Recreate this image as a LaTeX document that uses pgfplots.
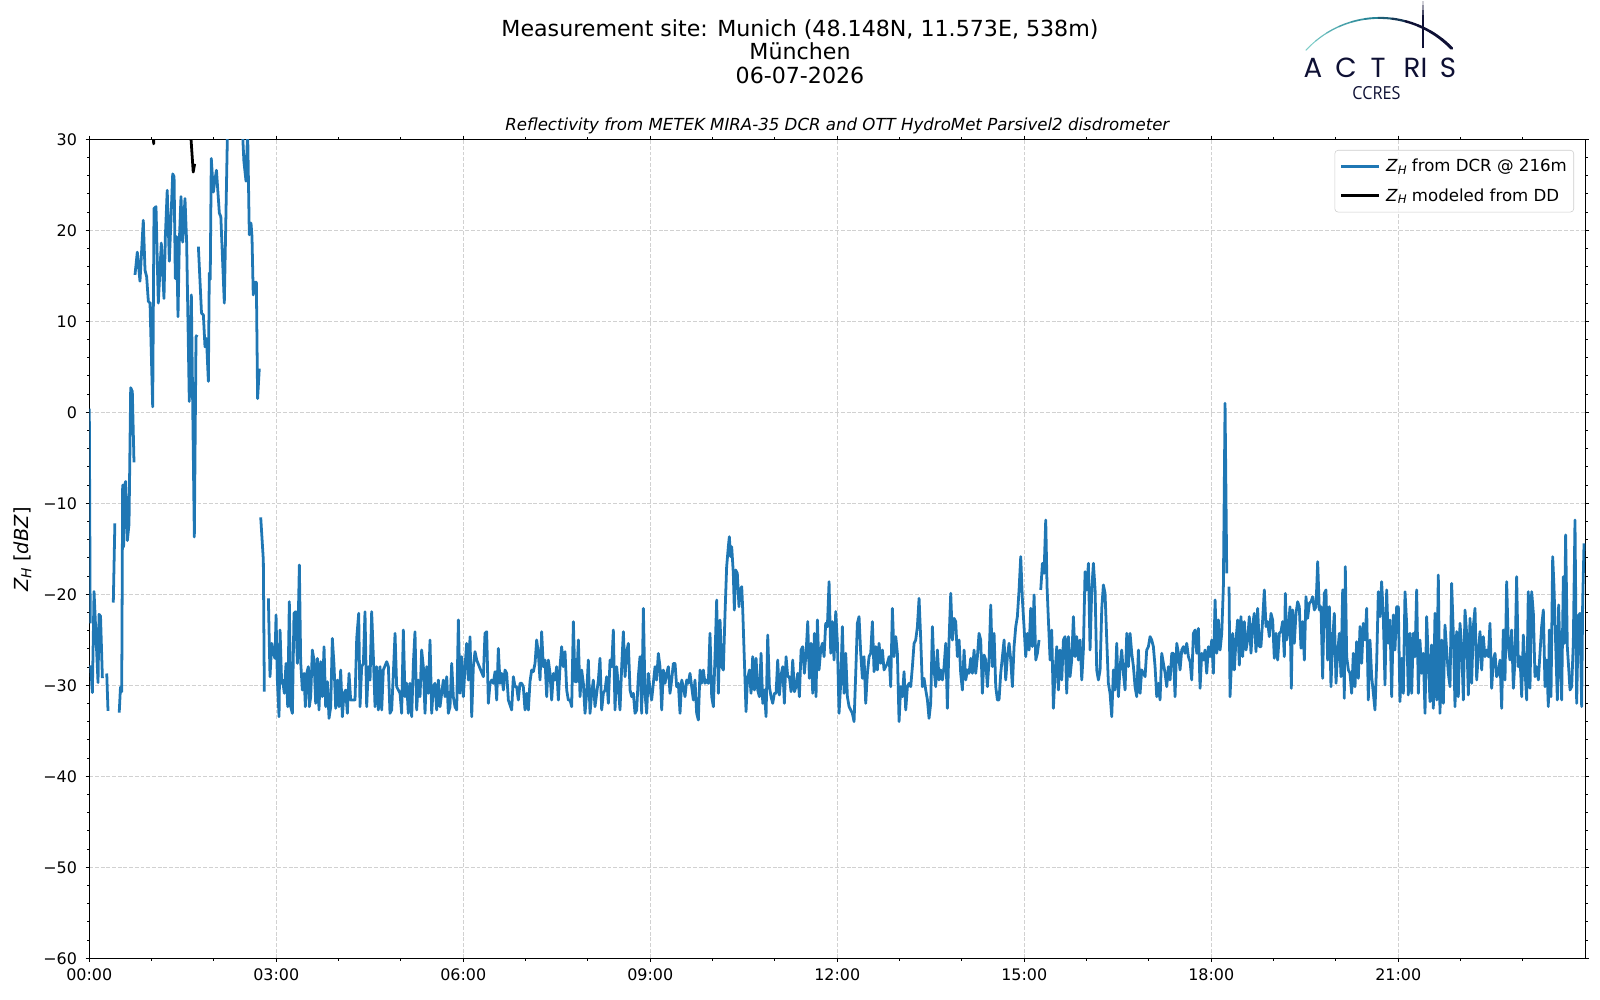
\documentclass[border=0pt]{standalone}
\usepackage{fontspec}
\setmainfont{DejaVu Sans}
\newfontfamily\logofont{Poppins}
\newfontfamily\ccresfont{Open Sans}
\usepackage{pgfplots}
\pgfplotsset{compat=1.18}
\usepackage{pgfplotstable}
\definecolor{mplblue}{RGB}{31,119,180}
\definecolor{navy}{RGB}{14,16,52}
\definecolor{teal1}{RGB}{125,205,200}
\definecolor{teal2}{RGB}{38,132,150}
\newcommand{\ZH}{\textit{Z}\raisebox{-0.3ex}{\fontsize{8.5}{10}\selectfont\itshape H}}

\pgfplotstableread{
t z
0.000 0.4
0.015 -23.2
nan nan
0.022 -27.8
0.049 -30.8
0.076 -19.7
0.140 -29.7
0.156 -22.2
0.180 -22.4
0.210 -29.2
nan nan
0.280 -28.7
0.300 -32.8
nan nan
0.385 -20.9
0.410 -12.2
nan nan
0.480 -33.0
0.500 -30.2
0.520 -30.7
0.535 -8.0
0.550 -14.8
0.565 -8.0
0.584 -7.6
0.610 -14.1
0.637 -12.3
0.664 2.7
0.690 2.3
0.717 -5.5
nan nan
0.733 15.1
0.770 17.6
0.813 14.4
0.866 21.1
0.894 15.6
0.920 14.9
0.947 12.2
0.974 12.0
1.017 0.6
1.038 22.4
1.070 22.6
1.107 12.0
1.155 18.6
1.198 12.5
1.220 19.3
1.250 24.4
1.284 16.6
1.338 26.2
1.360 25.9
1.380 14.7
1.400 19.3
1.423 10.5
1.445 18.9
1.471 23.7
1.498 18.7
1.535 23.5
1.562 18.6
1.604 1.2
1.637 12.9
1.685 -13.7
1.712 8.3
1.730 8.5
nan nan
1.750 18.2
1.800 10.9
1.830 10.7
1.856 7.2
1.880 8.1
1.910 3.4
1.925 15.3
1.940 14.6
1.957 27.9
1.990 24.2
2.015 25.5
2.040 26.6
2.086 21.9
2.110 21.5
2.166 12.0
2.214 29.9
2.240 36.0
2.400 36.0
2.460 30.5
2.480 27.6
2.514 25.4
2.540 31.0
2.567 19.5
2.594 20.8
2.610 19.3
2.630 12.9
2.660 14.3
2.680 14.3
2.700 1.5
2.727 4.8
nan nan
2.750 -11.54
2.792 -16.23
2.808 -30.70
nan nan
2.873 -20.44
2.899 -29.05
2.926 -25.39
2.953 -26.49
2.979 -27.04
2.996 -22.28
3.017 -29.42
3.044 -33.45
3.060 -23.92
3.086 -29.78
3.102 -29.42
3.129 -30.88
3.156 -27.59
3.183 -32.35
3.209 -20.81
3.231 -32.35
3.258 -33.08
3.284 -22.09
3.311 -21.91
3.338 -27.59
3.370 -16.78
3.391 -27.40
3.418 -30.52
3.445 -28.69
3.466 -32.35
3.488 -28.69
3.514 -27.95
3.530 -32.35
3.552 -31.25
3.578 -26.12
3.605 -27.22
3.632 -31.98
3.659 -27.04
3.685 -32.71
3.712 -27.40
3.739 -31.25
3.766 -25.76
3.792 -32.35
3.819 -29.60
3.846 -33.63
3.873 -32.35
3.899 -24.84
3.926 -27.77
3.953 -32.53
3.980 -29.42
4.006 -32.35
4.033 -28.32
4.060 -33.45
4.086 -30.88
4.113 -30.52
4.140 -33.08
4.167 -28.69
4.193 -31.62
4.220 -31.62
4.263 -31.62
4.290 -24.84
4.322 -22.09
4.343 -32.35
4.370 -27.95
4.397 -27.59
4.423 -21.91
4.450 -32.35
4.477 -27.95
4.504 -29.42
4.530 -21.91
4.557 -26.85
4.584 -32.35
4.610 -27.95
4.637 -32.71
4.664 -27.95
4.691 -32.71
4.717 -28.32
4.771 -27.40
4.798 -27.95
4.824 -33.08
4.851 -32.71
4.878 -28.69
4.905 -24.29
4.931 -30.15
4.958 -30.52
4.985 -30.88
5.011 -33.08
5.038 -23.92
5.065 -31.25
5.092 -29.78
5.118 -33.08
5.145 -29.78
5.172 -33.45
5.199 -27.59
5.225 -24.11
5.252 -32.71
5.279 -29.42
5.306 -31.25
5.332 -26.12
5.359 -27.95
5.386 -33.08
5.413 -27.95
5.439 -30.88
5.466 -25.02
5.493 -33.08
5.519 -30.15
5.546 -29.78
5.573 -32.71
5.600 -29.42
5.627 -32.35
5.653 -30.88
5.680 -29.42
5.707 -31.25
5.734 -29.05
5.760 -33.08
5.787 -32.35
5.814 -27.59
5.840 -31.25
5.867 -32.35
5.894 -32.71
5.921 -22.82
5.947 -30.88
5.974 -26.85
6.001 -31.25
6.028 -27.95
6.054 -25.39
6.081 -29.42
6.108 -24.66
6.135 -33.45
6.161 -27.95
6.188 -26.30
6.215 -27.22
6.322 -29.05
6.348 -24.29
6.375 -24.11
6.402 -31.98
6.429 -29.78
6.455 -29.42
6.482 -29.78
6.509 -28.50
6.536 -31.62
6.562 -25.94
6.589 -29.78
6.616 -28.69
6.643 -30.52
6.669 -28.32
6.696 -28.69
6.723 -31.62
6.776 -32.71
6.803 -29.05
6.830 -30.15
6.856 -30.15
6.883 -31.62
6.910 -29.78
6.937 -29.78
6.963 -30.15
6.990 -32.71
7.017 -30.88
7.044 -32.71
7.070 -29.60
7.097 -28.32
7.124 -28.50
7.151 -27.59
7.177 -25.02
7.204 -26.49
7.231 -29.42
7.257 -24.11
7.284 -27.95
7.311 -27.22
7.338 -31.25
7.364 -27.22
7.391 -28.69
7.418 -31.62
7.445 -28.69
7.472 -29.42
7.498 -27.95
7.525 -31.62
7.552 -27.95
7.578 -25.76
7.605 -27.95
7.632 -26.30
7.659 -30.52
7.685 -31.62
7.712 -31.62
7.739 -32.35
7.766 -23.01
7.792 -29.60
7.819 -29.60
7.846 -25.02
7.873 -31.25
7.899 -28.32
7.926 -29.78
7.953 -33.08
7.979 -30.88
8.006 -27.22
8.033 -33.08
8.060 -30.88
8.086 -29.42
8.113 -32.35
8.140 -30.88
8.167 -29.42
8.193 -27.04
8.220 -32.71
8.247 -30.88
8.274 -30.52
8.300 -29.05
8.327 -31.98
8.354 -27.22
8.381 -27.95
8.407 -23.92
8.434 -32.71
8.461 -27.95
8.488 -30.15
8.514 -32.71
8.541 -27.95
8.568 -24.11
8.595 -29.05
8.621 -26.30
8.648 -25.39
8.675 -30.52
8.702 -31.25
8.728 -30.88
8.755 -33.08
8.782 -32.71
8.808 -29.05
8.835 -26.85
8.862 -33.08
8.889 -21.54
8.915 -30.88
8.942 -33.08
8.969 -28.69
8.996 -30.52
9.022 -31.62
9.049 -29.78
9.076 -27.95
9.102 -29.42
9.129 -26.49
9.156 -27.95
9.183 -32.71
9.209 -28.32
9.236 -29.78
9.263 -28.69
9.290 -27.95
9.316 -30.88
9.343 -29.42
9.370 -27.59
9.397 -27.59
9.423 -30.15
9.450 -29.78
9.477 -33.08
9.504 -29.42
9.530 -30.15
9.557 -31.25
9.584 -29.42
9.610 -29.78
9.637 -28.69
9.664 -30.15
9.691 -31.62
9.717 -29.42
9.744 -33.08
9.771 -33.81
9.798 -28.32
9.824 -29.78
9.851 -28.32
9.878 -29.78
9.905 -29.42
9.931 -29.78
9.958 -24.29
9.985 -31.25
10.012 -32.35
10.038 -26.85
10.065 -20.63
10.092 -30.88
10.119 -22.82
10.145 -27.95
10.172 -28.32
10.199 -22.09
10.225 -16.96
10.252 -14.77
10.268 -13.67
10.289 -15.86
10.306 -14.77
10.332 -17.70
10.348 -21.73
10.370 -17.33
10.396 -17.70
10.423 -21.36
10.440 -19.52
10.467 -19.16
10.483 -21.72
10.536 -32.89
10.558 -29.41
10.590 -28.31
10.616 -30.88
10.643 -26.85
10.670 -30.51
10.697 -27.03
10.723 -30.51
10.750 -31.25
10.777 -26.48
10.804 -31.98
10.830 -30.51
10.857 -33.44
10.884 -24.47
10.911 -30.15
10.937 -31.25
10.964 -31.98
10.991 -30.88
11.018 -30.88
11.044 -27.22
11.071 -31.06
11.098 -28.86
11.125 -27.95
11.151 -31.98
11.178 -26.85
11.205 -29.05
11.232 -29.05
11.258 -30.70
11.285 -27.22
11.312 -30.70
11.338 -30.15
11.365 -28.68
11.392 -31.25
11.419 -26.12
11.445 -25.75
11.472 -28.68
11.499 -26.48
11.526 -23.00
11.552 -29.23
11.579 -25.38
11.606 -30.88
11.633 -24.29
11.659 -31.25
11.681 -22.82
11.707 -28.31
11.734 -26.12
11.761 -25.38
11.788 -26.85
11.814 -23.19
11.841 -23.55
11.868 -18.61
11.895 -26.48
11.921 -23.00
11.948 -27.22
11.975 -21.90
12.002 -25.38
12.028 -33.08
12.055 -29.78
12.082 -23.55
12.109 -30.88
12.135 -26.48
12.162 -31.25
12.189 -32.34
12.216 -32.71
12.242 -33.08
12.269 -33.99
12.296 -28.68
12.322 -23.19
12.349 -22.45
12.376 -26.48
12.403 -29.23
12.429 -26.85
12.456 -31.98
12.483 -28.68
12.510 -26.85
12.536 -26.48
12.563 -23.00
12.590 -28.50
12.617 -25.75
12.643 -28.31
12.670 -25.38
12.697 -27.58
12.724 -26.12
12.750 -28.31
12.777 -27.95
12.804 -27.58
12.831 -26.85
12.857 -30.15
12.884 -21.54
12.911 -26.85
12.938 -24.65
12.964 -26.48
12.991 -33.99
13.018 -30.15
13.044 -31.25
13.071 -28.50
13.098 -32.71
13.125 -30.15
13.151 -29.78
13.178 -30.15
13.205 -27.95
13.232 -25.38
13.258 -25.02
13.285 -23.55
13.312 -20.44
13.339 -25.02
13.365 -30.15
13.392 -29.23
13.419 -30.51
13.446 -31.61
13.472 -33.63
13.499 -31.98
13.526 -23.55
13.553 -28.31
13.579 -30.15
13.606 -26.12
13.633 -29.41
13.659 -28.31
13.686 -29.41
13.713 -27.95
13.740 -25.38
13.766 -32.53
13.793 -25.02
13.820 -19.89
13.847 -25.02
13.873 -22.64
13.900 -23.00
13.927 -26.85
13.954 -25.02
13.980 -28.68
14.007 -30.51
14.034 -26.12
14.061 -29.41
14.087 -28.31
14.114 -28.68
14.141 -27.03
14.168 -28.68
14.194 -26.12
14.221 -28.68
14.248 -26.85
14.274 -24.29
14.301 -25.02
14.328 -30.88
14.355 -26.67
14.381 -27.22
14.408 -30.15
14.435 -27.22
14.462 -21.17
14.488 -27.95
14.515 -24.29
14.542 -30.15
14.569 -31.61
14.595 -31.61
14.622 -28.68
14.649 -26.85
14.676 -25.02
14.702 -29.41
14.729 -26.85
14.756 -25.38
14.783 -27.22
14.809 -30.15
14.836 -25.75
14.863 -23.55
14.889 -22.45
14.916 -19.52
14.943 -15.86
14.970 -20.62
14.996 -23.55
15.023 -26.85
15.050 -24.29
15.077 -26.12
15.103 -21.54
15.130 -25.75
15.157 -20.07
15.184 -27.22
15.210 -26.48
15.237 -25.02
nan nan
15.264 -19.52
15.291 -16.59
15.317 -17.69
15.344 -11.83
15.365 -19.16
15.387 -22.82
15.414 -27.22
15.440 -23.92
15.467 -32.53
15.494 -28.68
15.521 -25.75
15.547 -30.51
15.574 -26.12
15.601 -29.41
15.628 -25.02
15.654 -24.65
15.681 -30.88
15.708 -24.65
15.734 -29.05
15.761 -27.22
15.788 -22.45
15.815 -26.85
15.841 -24.65
15.868 -27.22
15.895 -25.02
15.922 -29.41
15.948 -26.12
15.975 -17.51
16.002 -19.52
16.029 -16.59
16.055 -26.12
16.082 -19.52
16.109 -16.59
16.136 -19.52
16.162 -28.31
16.189 -29.41
16.216 -28.31
16.243 -21.54
16.269 -18.97
16.296 -19.89
16.323 -25.02
16.349 -29.78
16.376 -30.88
16.403 -33.44
16.430 -28.31
16.456 -30.51
16.483 -25.38
16.510 -31.25
16.537 -27.95
16.563 -26.12
16.590 -28.68
16.617 -30.51
16.644 -24.29
16.670 -27.95
16.697 -24.29
16.724 -26.48
16.751 -27.95
16.777 -30.15
16.804 -31.25
16.831 -26.12
16.858 -30.88
16.884 -28.31
16.911 -28.68
16.938 -29.05
16.964 -26.12
16.991 -25.75
17.018 -24.65
17.045 -25.02
17.071 -25.75
17.098 -27.95
17.125 -31.25
17.152 -29.78
17.178 -31.61
17.205 -26.48
17.232 -27.58
17.259 -28.68
17.285 -30.15
17.312 -27.95
17.339 -29.41
17.366 -26.48
17.392 -26.48
17.419 -31.25
17.446 -25.38
17.473 -26.48
17.499 -28.31
17.526 -26.12
17.553 -25.75
17.579 -26.48
17.606 -25.38
17.633 -26.85
17.660 -27.40
17.686 -29.41
17.713 -24.29
17.740 -23.92
17.767 -26.48
17.793 -23.74
17.820 -30.33
17.847 -26.48
17.874 -27.22
17.900 -26.12
17.927 -28.68
17.954 -25.75
17.981 -26.85
18.007 -25.02
18.034 -28.68
18.061 -20.62
18.088 -26.48
18.114 -22.82
18.141 -26.12
18.168 -24.29
18.194 -19.16
18.221 1.0
18.248 -17.69
nan nan
18.285 -19.16
18.301 -31.25
18.343 -24.29
18.370 -28.31
18.396 -25.02
18.423 -22.82
18.450 -27.77
18.476 -22.45
18.503 -26.85
18.530 -23.00
18.557 -26.12
18.583 -25.02
18.610 -22.45
18.637 -26.48
18.664 -23.37
18.690 -22.09
18.717 -26.30
18.744 -21.54
18.771 -25.75
18.797 -25.75
18.824 -22.82
18.851 -19.52
18.878 -23.55
18.904 -23.00
18.931 -24.65
18.958 -22.09
18.985 -22.82
19.011 -27.03
19.038 -24.29
19.065 -27.22
19.092 -24.29
19.118 -24.10
19.145 -23.00
19.172 -26.85
19.188 -19.89
19.209 -25.02
19.236 -23.92
19.263 -21.36
19.284 -30.33
19.305 -21.72
19.332 -25.38
19.359 -22.09
19.386 -20.81
19.412 -21.36
19.439 -25.93
19.466 -23.00
19.493 -27.22
19.519 -20.26
19.546 -22.64
19.573 -20.99
19.600 -20.81
19.626 -20.26
19.653 -21.72
19.680 -21.36
19.707 -16.41
19.733 -21.72
19.760 -21.36
19.787 -29.23
19.813 -19.89
19.840 -19.52
19.867 -27.22
19.894 -21.36
19.920 -30.15
19.947 -25.02
19.974 -22.09
20.001 -29.78
20.027 -26.48
20.054 -24.29
20.081 -29.05
20.108 -19.52
20.134 -31.43
20.150 -16.96
20.172 -26.85
20.199 -28.31
20.225 -28.68
20.252 -30.88
20.279 -26.48
20.306 -30.15
20.332 -25.20
20.359 -29.23
20.386 -23.55
20.413 -27.58
20.439 -23.19
20.466 -25.02
20.493 -21.54
20.519 -31.61
20.546 -25.02
20.573 -29.05
20.600 -30.88
20.626 -32.71
20.653 -27.58
20.680 -19.71
20.707 -22.45
20.733 -18.61
20.760 -22.45
20.787 -29.96
20.814 -19.52
20.840 -25.38
20.867 -22.82
20.894 -31.25
20.921 -22.27
20.947 -26.12
20.974 -21.36
21.001 -21.36
21.027 -31.79
21.054 -27.03
21.081 -30.88
21.108 -19.71
21.134 -23.19
21.161 -31.06
21.188 -24.29
21.215 -30.88
21.241 -24.29
21.268 -26.85
21.295 -19.52
21.322 -30.88
21.348 -25.02
21.375 -28.68
21.402 -26.48
21.429 -33.08
21.455 -22.45
21.482 -27.22
21.509 -31.79
21.535 -25.57
21.562 -32.53
21.589 -22.09
21.616 -31.61
21.642 -17.88
21.669 -33.08
21.696 -25.02
21.723 -31.98
21.749 -23.37
21.776 -26.12
21.803 -28.68
21.830 -30.15
21.856 -18.79
21.883 -24.29
21.910 -32.34
21.937 -24.10
21.963 -31.25
21.990 -23.19
22.017 -25.75
22.044 -31.61
22.070 -21.72
22.097 -24.29
22.124 -31.06
22.151 -22.64
22.177 -29.78
22.204 -23.55
22.231 -21.54
22.258 -29.41
22.284 -26.48
22.311 -24.10
22.338 -28.31
22.364 -24.65
22.391 -26.85
22.418 -26.12
22.445 -26.85
22.471 -23.19
22.498 -30.33
22.525 -27.22
22.552 -26.48
22.578 -29.05
22.605 -28.68
22.632 -27.22
22.659 -32.53
22.685 -23.92
22.712 -29.41
22.739 -18.61
22.766 -25.75
22.792 -27.22
22.819 -23.92
22.846 -30.33
22.873 -27.22
22.899 -18.06
22.926 -27.95
22.953 -26.85
22.980 -31.25
23.006 -24.47
23.033 -28.31
23.060 -31.61
23.086 -19.71
23.113 -30.33
23.140 -19.71
23.167 -22.09
23.193 -29.05
23.220 -27.95
23.247 -29.41
23.300 -23.55
23.327 -21.72
23.354 -30.15
23.381 -27.22
23.407 -32.34
23.423 -23.92
23.450 -31.25
23.477 -15.86
23.498 -19.16
23.520 -24.29
23.552 -31.61
23.573 -21.17
23.594 -26.48
23.621 -31.61
23.648 -18.06
23.664 -25.38
23.685 -13.48
23.712 -25.75
23.739 -28.68
23.755 -30.51
23.782 -30.15
23.808 -25.38
23.835 -11.83
23.862 -31.98
23.889 -22.45
23.915 -22.09
23.942 -32.34
23.958 -20.99
23.980 -14.40
}\dcr

\pgfplotstableread{
t z
1.020 31.5
1.033 29.5
1.045 31.5
nan nan
1.600 34.0
1.632 30.0
1.667 26.4
1.690 27.3
}\dd

\begin{document}
\begin{tikzpicture}
\useasboundingbox (-64.3bp,-30.0bp) rectangle (1087.7bp,690.0bp);
\begin{axis}[
  at={(0,0)}, anchor=south west, scale only axis,
  width=1077.1bp, height=589.7bp,
  xmin=0, xmax=24, ymin=-60, ymax=30,
  xtick={0,3,6,9,12,15,18,21},
  xticklabels={00:00,03:00,06:00,09:00,12:00,15:00,18:00,21:00},
  minor xtick={1,2,4,5,7,8,10,11,13,14,16,17,19,20,22,23},
  ytick={-60,-50,-40,-30,-20,-10,0,10,20,30},
  yticklabels={−60,−50,−40,−30,−20,−10,0,10,20,30},
  minor ytick={-58,-56,-54,-52,-48,-46,-44,-42,-38,-36,-34,-32,-28,-26,-24,-22,-18,-16,-14,-12,-8,-6,-4,-2,2,4,6,8,12,14,16,18,22,24,26,28},
  tick align=outside,
  major tick length=2.6bp, minor tick length=1.6bp,
  every tick/.style={black, line width=0.7bp},
  axis line style={black, line width=0.8bp},
  xmajorgrids, ymajorgrids,
  major grid style={draw=black!18, line width=0.7bp, dash pattern=on 2.8bp off 1.3bp},
  tick label style={font=\fontsize{11.5}{13}\selectfont},
  xticklabel style={anchor=north, inner sep=0pt, yshift=-4.4bp},
  yticklabel style={anchor=east, inner sep=0pt, xshift=-6.1bp},
  unbounded coords=jump,
  legend style={at={(axis description cs:0.9925,0.9870)}, anchor=north east,
    draw=black!20, rounded corners=2.5bp, fill=white, fill opacity=0.8, text opacity=1,
    font=\fontsize{12}{14}\selectfont, inner xsep=3.5bp, inner ysep=5bp, row sep=7.4bp,
    nodes={inner sep=1.5bp}},
  legend cell align=left,
  legend image code/.code={\draw[#1] (0bp,0bp) -- (27bp,0bp); \path (30bp,0bp);},
]
\addplot[mplblue, line width=2.0bp, line join=round] table[x=t, y=z] {\dcr};
\addlegendentry{\ZH\ from DCR @ 216m}
\addplot[black, line width=2.0bp, line join=round] table[x=t, y=z] {\dd};
\addlegendentry{\ZH\ modeled from DD}
\end{axis}

% titles
\node[font=\fontsize{16}{19}\selectfont] at (511.7bp,669.0bp) {Measurement site: Munich (48.148N, 11.573E, 538m)};
\node[font=\fontsize{16}{19}\selectfont] at (511.7bp,653.0bp) {München};
\node[font=\fontsize{16}{19}\selectfont] at (511.7bp,636.0bp) {06-07-2026};
\node[font=\fontsize{12}{14}\selectfont\itshape] at (538.55bp,599.0bp) {Reflectivity from METEK MIRA-35 DCR and OTT HydroMet Parsivel2 disdrometer};
% y label
\node[rotate=90, font=\fontsize{14}{17}\selectfont] at (-48.1bp,294.3bp) {\textit{Z}\raisebox{-0.3ex}{\fontsize{10}{12}\selectfont\itshape H} [\textit{dBZ}]};

% logo arc
\foreach \i in {0,...,11} {
  \pgfmathsetmacro\aa{137.3-\i*7.77}
  \pgfmathsetmacro\ab{137.3-(\i+1)*7.77}
  \pgfmathsetmacro\wa{0.7+0.13*\i}
  \ifnum\i<6
    \pgfmathsetmacro\m{100*\i/5}
    \draw[color=teal2!\m!teal1, line width=\wa bp, line cap=round]
      ([shift={(\aa:72.2bp)}]929.06bp,604.9bp) arc[start angle=\aa, end angle=\ab, radius=72.2bp];
  \else
    \pgfmathsetmacro\m{min(100,100*(\i-5)/3)}
    \draw[color=navy!\m!teal2, line width=\wa bp, line cap=round]
      ([shift={(\aa:72.2bp)}]929.06bp,604.9bp) arc[start angle=\aa, end angle=\ab, radius=72.2bp];
  \fi
}
% vertical line with faded top
\draw[navy, line width=1.4bp] (960.5bp,655.2bp) -- (960.5bp,679bp);
\draw[navy!75, line width=1.4bp] (960.5bp,679bp) -- (960.5bp,683bp);
\draw[navy!45, line width=1.4bp] (960.5bp,683bp) -- (960.5bp,686.5bp);
\draw[navy!20, line width=1.4bp] (960.5bp,686.5bp) -- (960.5bp,689.3bp);
\begin{scope}[every node/.style={navy, font=\logofont\fontsize{20}{20}\selectfont, anchor=base, inner sep=0pt}]
\node at (881.1bp,634.3bp) {A};
\node at (904.8bp,634.3bp) {C};
\node at (927.9bp,634.3bp) {T};
\node at (952.4bp,634.3bp) {R};
\node at (961.0bp,634.3bp) {I};
\node at (978.3bp,634.3bp) {S};
\end{scope}
\node[navy, font=\ccresfont\fontsize{13}{13}\selectfont, inner sep=0pt, anchor=base] at (926.7bp,618.5bp) {\scalebox{0.9}[1]{CCRES}};
\end{tikzpicture}
\end{document}
